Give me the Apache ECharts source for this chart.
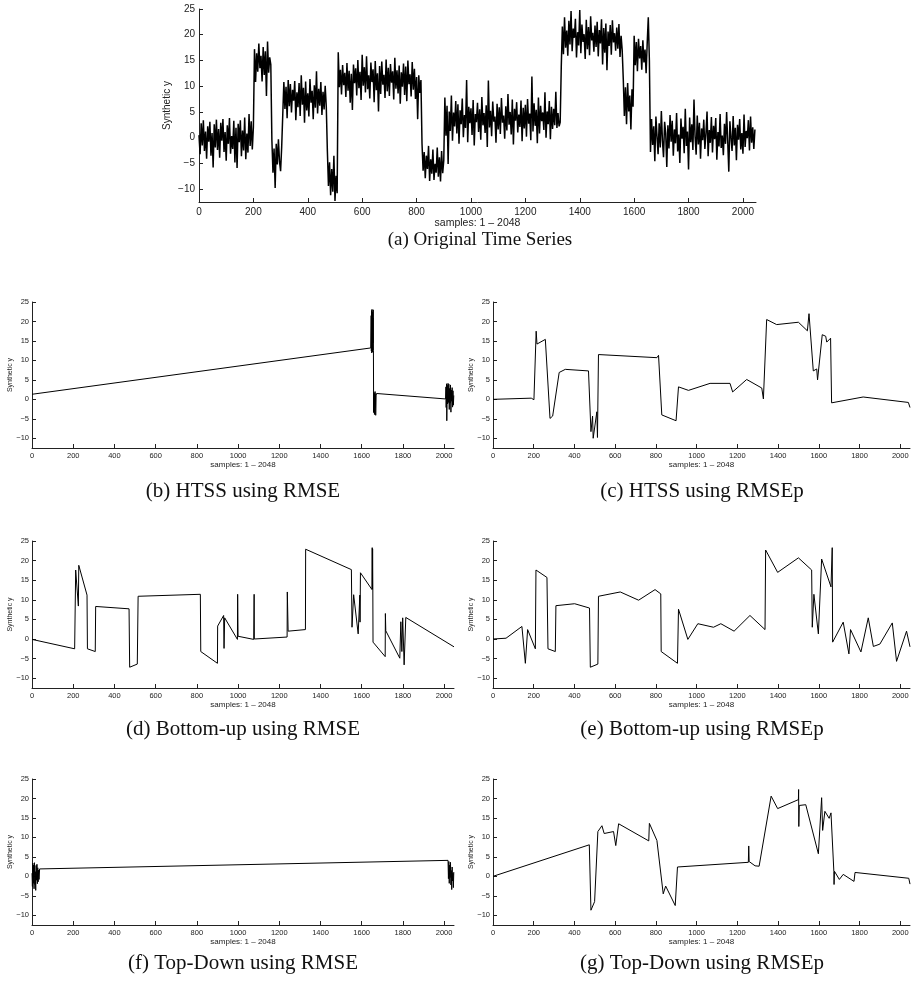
<!DOCTYPE html>
<html>
<head>
<meta charset="utf-8">
<script src="https://cdn.jsdelivr.net/npm/echarts@6.0.0/dist/echarts.min.js"></script>
<style>
	html, body { margin: 0; padding: 0; background: #fff; }
	#main { width: 918px; height: 986px; }
</style>
</head>
<body>
<div id="main"></div>
<script>
// tick positions shared by every panel
const xTicks = [0, 200, 400, 600, 800, 1000, 1200, 1400, 1600, 1800, 2000]
const yTicks = [-10, -5, 0, 5, 10, 15, 20, 25]

// (a) original series, every 4 samples, one list per regime
const origStep = 4
const origStarts = [0, 204, 268, 308, 472, 512, 820, 904, 1332, 1560, 1600, 1660]
const orig0 = [0.5,-3.2,2.8,-1.5,3.4,-2.6,1.2,-4.1,2.2,-0.8,3.1,-3.5,0.9,-5.8,2.6,-1.9,3.5,-2.4,1.7,-3.9,2.9,-0.6,3.6,-2.8,1.1,-4.5,2.4,-1.2,3.8,-3.1,0.3,-2.2,3.3,-4.8,1.9,-5.9,2.7,-0.9,3.4,-3.6,1.4,-2.5,3.9,-4.2,0.8,-2.9,4.6,-1.6,3.2,-2.3,2.1]
const orig1 = [17.2,10.8,16.4,12.8,18.3,13.5,15.9,10.9,17.6,12.2,16.8,8.1,18.7,12.6,15.6,14.2]
const orig2 = [-0.5,-6.8,-2.1,-9.8,-1.2,-5.2,-0.3,-4.6,-6.5,-1.8]
const orig3 = [4.5,10.8,5.6,9.9,3.8,11.2,6.1,10.4,4.9,9.3,7.2,11.0,3.4,8.8,5.9,10.6,4.2,12.1,6.4,9.7,2.9,10.9,5.3,8.6,4.1,11.4,6.8,9.1,3.6,10.2,5.8,12.9,4.7,9.5,6.2,10.8,4.4,8.9,5.5,10.1,6.0]
const orig4 = [-2.6,-9.4,-4.8,-11.2,-6.1,-10.5,-3.5,-12.3,-7.4,-10.8]
const orig5 = [16.6,9.8,13.2,8.4,14.1,10.2,12.6,7.9,14.5,9.1,13.0,6.8,12.4,5.4,14.2,10.6,13.5,8.2,15.1,9.6,12.8,7.3,16.1,10.1,13.7,8.8,15.8,9.4,12.1,7.6,14.6,10.8,13.3,6.9,14.9,9.2,12.5,5.1,13.9,8.5,14.8,10.3,12.2,7.7,15.2,9.0,13.6,8.1,14.3,10.7,12.9,7.4,15.5,9.5,13.1,8.6,14.0,6.6,12.7,9.9,14.4,8.3,13.8,7.1,15.0,10.4,12.3,8.0,14.7,9.3,13.4,7.5,11.8,3.6,12.1,8.7,11.2]
const orig6 = [-1.2,-6.4,-2.8,-7.9,-3.5,-6.1,-1.6,-8.4,-4.2,-7.0,-2.3,-8.2,-5.1,-6.8,-1.9,-7.6,-3.8,-8.5,-2.6,-6.9,-4.4]
const orig7 = [7.8,0.4,6.2,-5.1,5.1,1.3,8.2,-0.6,4.9,2.2,7.1,0.8,6.5,-1.2,5.3,2.6,7.6,0.1,4.4,1.9,
	11.2,-0.9,6.0,2.8,5.7,0.5,7.3,-1.5,4.6,3.0,6.8,1.1,5.5,-0.4,7.9,2.4,4.8,0.9,6.3,-1.8,
	11.1,2.0,5.2,0.3,7.0,3.1,4.1,-1.0,6.6,1.6,5.9,0.7,7.7,2.9,4.3,-0.2,6.1,1.4,8.5,2.5,
	5.0,0.6,7.4,-1.3,5.6,3.3,6.9,1.0,4.5,2.1,7.2,-0.7,5.8,1.8,6.4,0.2,7.5,2.7,4.7,-0.5,
	11.9,1.2,6.7,2.3,5.4,-1.1,7.8,0.8,6.2,3.2,4.9,1.5,8.8,0.0,5.1,2.6,7.1,-0.3,6.0,1.7,
	5.6,2.4,8.9,1.9,4.8,2.2,3.0]
const orig8 = [13.8,21.6,16.2,23.4,17.5,20.8,15.9,22.7,18.1,24.6,16.8,21.2,19.4,23.1,15.6,20.5,17.9,24.8,16.4,22.0,
	18.6,20.1,15.3,22.9,17.2,21.5,16.0,23.6,18.9,20.4,16.7,21.8,17.6,22.5,15.8,20.9,18.3,23.0,14.2,21.3,
	16.5,22.2,13.1,20.6,17.8,21.9,16.1,22.8,18.5,20.3,16.9,21.4,17.3,22.1,15.7,19.8,17.0]
const orig9 = [11.4,4.2,9.8,2.6,10.6,5.1,8.2,1.6,9.4,6.0]
const orig10 = [19.8,14.1,18.6,12.9,19.2,15.4,17.8,13.2,18.9,14.6,17.1,12.5,18.4,23.4,15.0]
const orig11 = [-2.8,3.6,-1.4,2.2,-4.6,4.1,0.3,-3.2,2.8,-1.9,5.2,-0.6,-3.8,3.1,0.9,-5.7,2.4,-2.1,4.4,-0.8,
	3.3,-3.5,1.6,-1.1,4.8,-2.7,0.6,-4.9,3.7,-0.2,2.1,-3.0,5.6,-1.6,1.2,-6.2,3.9,-0.9,2.6,-2.4,
	7.4,0.2,-3.3,4.3,-1.3,2.9,-4.1,1.8,-0.5,3.5,-2.2,0.8,5.1,-3.6,1.5,-1.0,4.0,-2.9,2.3,-0.3,
	3.8,-4.3,1.1,-1.7,4.6,-2.0,0.4,-3.4,2.7,-1.2,5.0,-0.7,-6.6,3.2,0.1,-2.6,4.2,-1.5,1.9,-4.4,
	2.5,-0.4,3.6,-2.3,0.9,-3.1,4.5,-1.8,1.3,-0.1,3.4,-2.5,4.1,-1.0,2.0,-2.2,1.6]
const origValues = [orig0, orig1, orig2, orig3, orig4, orig5, orig6, orig7, orig8, orig9, orig10, orig11]

// (b)-(g) segmentations: [sample, value]
const htssRmse = [[0,1.3],[1644,13.2],[1646,21.5],[1647,12.4],[1648,22.8],[1649,11.9],[1650,23.1],[1651,13.0],[1652,22.4],[1653,12.2],[1654,20.9],[1655,14.5],[1656,23.0],[1657,12.6],[1658,-3.4],[1659,1.8],[1660,-2.9],[1661,0.4],[1662,-3.9],[1663,1.5],[1664,-2.2],[1665,2.0],[1666,-1.5],[1667,1.2],[1668,-4.1],[1670,0.9],[1672,1.5],[2007,0.1],[2009,3.2],[2010,-2.1],[2012,4.0],[2013,-5.5],[2015,3.6],[2017,-1.2],[2019,4.1],[2021,-0.8],[2023,3.9],[2025,-2.6],[2027,2.8],[2029,-1.0],[2031,3.7],[2033,-3.3],[2035,2.4],[2037,-0.5],[2039,3.0],[2041,-2.0],[2043,2.2],[2045,-1.5],[2047,1.0]]
const htssRmsep = [[0,0.0],[188,0.3],[201,-0.1],[212,17.5],[216,14.2],[257,15.4],[280,-4.9],[293,-4.3],[325,6.9],[355,7.7],[469,7.3],[481,-8.3],[489,-4.3],[492,-10.0],[510,-3.2],[513,-9.8],[518,11.5],[805,10.7],[813,11.3],[821,10.8],[829,-4.0],[899,-5.5],[911,3.2],[960,2.3],[1066,4.1],[1164,4.1],[1177,1.9],[1246,5.1],[1320,2.9],[1328,0.1],[1344,20.5],[1393,19.2],[1500,19.8],[1544,17.6],[1552,22.0],[1573,7.3],[1590,7.8],[1594,5.0],[1617,16.6],[1634,16.2],[1639,14.7],[1658,15.7],[1663,-0.9],[1818,0.6],[2040,-0.8],[2048,-2.1]]
const bottomUpRmse = [[0,-0.1],[207,-2.5],[212,17.6],[225,8.4],[227,18.8],[267,11.2],[269,-2.5],[307,-3.2],[309,8.3],[471,7.7],[474,-7.2],[511,-6.4],[515,10.9],[817,11.4],[819,-3.2],[900,-6.2],[901,3.3],[930,6.0],[932,-2.4],[935,5.4],[997,-0.1],[998,11.4],[1000,0.7],[1076,-0.1],[1078,11.4],[1079,0.0],[1238,0.5],[1239,12.0],[1243,2.0],[1327,2.4],[1328,22.9],[1550,17.7],[1553,3.0],[1561,11.3],[1583,1.3],[1591,11.2],[1592,4.3],[1594,16.9],[1650,12.6],[1651,23.3],[1652,12.8],[1653,23.0],[1654,13.5],[1655,-0.8],[1714,-4.5],[1715,6.5],[1717,2.1],[1785,-4.9],[1790,4.4],[1795,-3.2],[1799,5.4],[1806,-6.6],[1814,5.5],[2048,-2.0]]
const bottomUpRmsep = [[0,0.0],[64,0.2],[142,3.2],[159,-6.2],[170,2.4],[208,-2.5],[211,17.6],[265,15.7],[270,-2.5],[306,-3.2],[309,8.5],[401,9.0],[474,7.9],[478,-7.2],[515,-6.4],[518,10.9],[625,12.0],[715,9.9],[796,12.6],[824,11.5],[826,-3.2],[906,-6.2],[911,7.6],[957,-0.1],[1006,3.9],[1083,3.0],[1119,3.9],[1184,2.0],[1262,6.0],[1336,2.4],[1339,22.7],[1398,17.0],[1500,20.7],[1565,17.6],[1568,3.0],[1576,11.4],[1598,1.3],[1614,20.4],[1660,13.3],[1666,23.3],[1668,-0.8],[1720,4.3],[1748,-3.8],[1756,2.4],[1807,-3.3],[1843,5.4],[1868,-1.9],[1900,-1.3],[1961,4.1],[1982,-5.7],[2031,2.0],[2048,-2.0]]
const topDownRmse = [[0,0.8],[2,-2.6],[4,3.4],[6,-1.8],[8,2.9],[10,-3.2],[12,3.5],[14,-2.1],[16,1.2],[18,-3.6],[20,2.8],[22,-1.0],[24,3.1],[26,-1.9],[28,2.2],[30,-1.4],[32,1.6],[34,-0.8],[37,1.9],[2019,4.1],[2021,-0.6],[2023,3.8],[2025,-1.8],[2027,2.9],[2029,-0.3],[2031,3.6],[2033,-2.2],[2035,1.5],[2037,-3.4],[2039,2.4],[2041,-1.2],[2043,0.8],[2045,-2.9],[2047,1.1]]
const topDownRmsep = [[0,0.0],[473,8.1],[481,-8.7],[499,-6.5],[515,11.5],[535,13.0],[546,11.0],[592,11.5],[603,7.9],[617,13.5],[765,9.1],[768,13.6],[805,9.2],[813,9.4],[836,-4.5],[848,-2.5],[895,-7.5],[906,2.4],[1254,3.6],[1256,7.8],[1258,3.8],[1262,4.2],[1287,2.7],[1307,2.6],[1366,20.6],[1398,17.4],[1500,19.7],[1501,22.3],[1502,12.8],[1504,18.2],[1536,18.4],[1598,5.8],[1614,20.2],[1619,11.8],[1630,16.7],[1651,14.9],[1660,16.3],[1674,1.3],[1675,-2.1],[1677,1.3],[1701,-0.8],[1720,0.5],[1773,-1.3],[1778,1.0],[2042,-0.5],[2048,-2.0]]

const captions = ['(a) Original Time Series', '(b) HTSS using RMSE', '(c) HTSS using RMSEp',
	'(d) Bottom-up using RMSE', '(e) Bottom-up using RMSEp', '(f) Top-Down using RMSE', '(g) Top-Down using RMSEp']

const original = []
origStarts.forEach((s, k) => origValues[k].forEach((v, i) => original.push([s + i * origStep, v])))

const panels = [
	{ data: original, big: true, grid: { left: 199, top: 9, width: 557, height: 193 }, cap: [480, 240] },
	{ data: htssRmse, grid: { left: 32, top: 302, width: 422, height: 146 }, cap: [243, 491] },
	{ data: htssRmsep, grid: { left: 493, top: 302, width: 417, height: 146 }, cap: [702, 491] },
	{ data: bottomUpRmse, grid: { left: 32, top: 541, width: 422, height: 147 }, cap: [243, 729] },
	{ data: bottomUpRmsep, grid: { left: 493, top: 541, width: 417, height: 147 }, cap: [702, 729] },
	{ data: topDownRmse, grid: { left: 32, top: 779, width: 422, height: 146 }, cap: [243, 963] },
	{ data: topDownRmsep, grid: { left: 493, top: 779, width: 417, height: 146 }, cap: [702, 963] },
]

const axisColor = '#222'
const sans = 'Liberation Sans'
const minus = v => String(v).replace('-', '\u2212')

const option = {
	animation: false,
	backgroundColor: '#fff',
	grid: panels.map(p => p.grid),
	xAxis: panels.map((p, i) => ({
		gridIndex: i, type: 'value', min: 0, max: 2048,
		name: 'samples: 1 \u2013 2048', nameLocation: 'middle', nameGap: p.big ? 16 : 12.5,
		nameMoveOverlap: false,
		nameTextStyle: { fontSize: p.big ? 10.5 : 8, color: axisColor, fontFamily: sans },
		axisLine: { show: true, onZero: false, lineStyle: { color: axisColor, width: 1 } },
		axisTick: { show: true, inside: true, length: 4, customValues: xTicks, lineStyle: { color: axisColor } },
		axisLabel: { customValues: xTicks, fontSize: p.big ? 10 : 7.5, margin: p.big ? 5 : 3.5, color: axisColor, fontFamily: sans, formatter: v => String(v) },
		splitLine: { show: false },
	})),
	yAxis: panels.map((p, i) => ({
		gridIndex: i, type: 'value', min: -12.5, max: 25,
		name: 'Synthetic y', nameLocation: 'middle', nameRotate: 90, nameGap: p.big ? 27 : 18,
		nameMoveOverlap: false,
		nameTextStyle: { fontSize: p.big ? 10 : 7, color: axisColor, fontFamily: sans },
		axisLine: { show: true, onZero: false, lineStyle: { color: axisColor, width: 1 } },
		axisTick: { show: true, inside: true, length: 4, customValues: yTicks, lineStyle: { color: axisColor } },
		axisLabel: { customValues: yTicks, fontSize: p.big ? 10 : 7.5, margin: p.big ? 4 : 3, color: axisColor, fontFamily: sans, formatter: minus },
		splitLine: { show: false },
	})),
	series: panels.map((p, i) => ({
		type: 'line', xAxisIndex: i, yAxisIndex: i, data: p.data,
		symbol: 'none', showSymbol: false,
		lineStyle: { color: '#000', width: p.big ? 1.5 : 1 },
	})),
	graphic: panels.map((p, i) => ({
		type: 'text', x: p.cap[0], y: p.cap[1],
		style: { text: captions[i], font: (p.big ? 19 : 21) + 'px "Liberation Serif"', fill: '#111', textAlign: 'center', textVerticalAlign: 'middle' },
	})),
}

const chart = echarts.init(document.getElementById('main'))
chart.setOption(option)
</script>
</body>
</html>
